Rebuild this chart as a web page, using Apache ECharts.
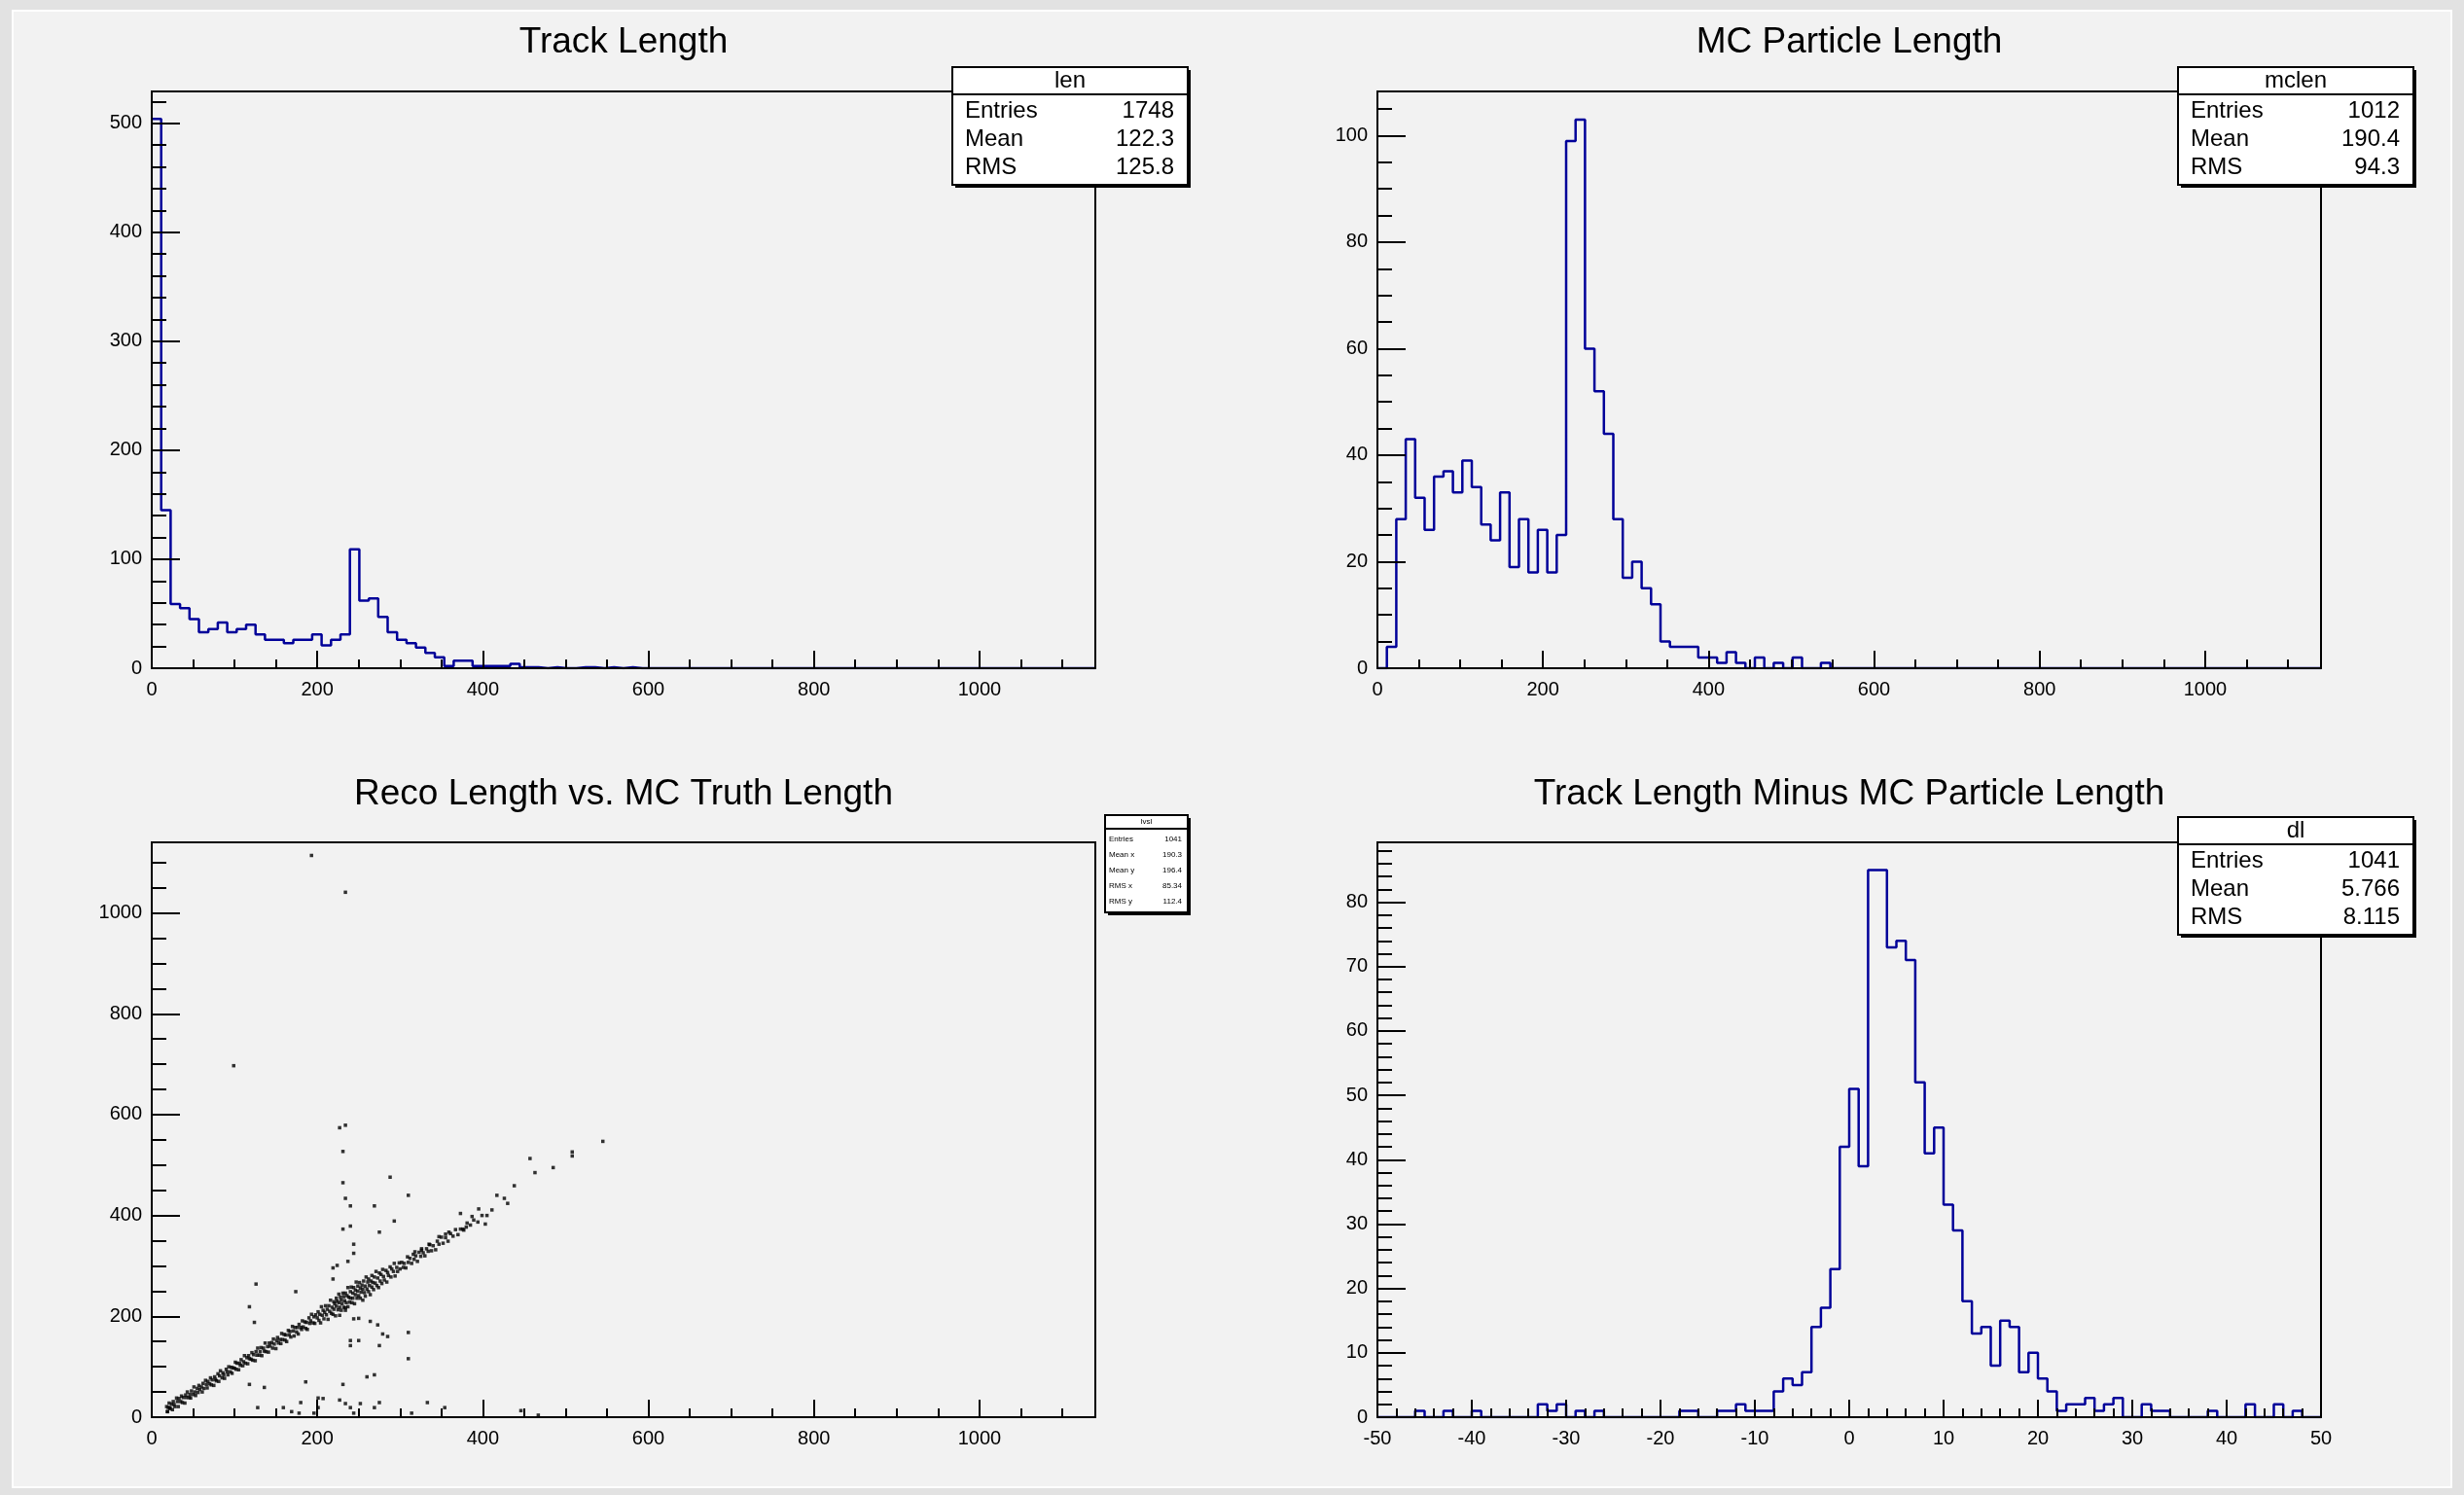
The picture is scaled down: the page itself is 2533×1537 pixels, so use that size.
<!DOCTYPE html>
<html><head><meta charset="utf-8">
<script src="https://cdn.jsdelivr.net/npm/echarts/dist/echarts.min.js"></script>
<style>html,body{margin:0;padding:0;background:#e2e2e2;}#c{width:2533px;height:1537px;}</style>
</head><body><div id="c"></div><script>
// ---------------- DATA ----------------
const lenRange = [0, 1140];
const lenCounts = [504,145,59,55,45,33,36,42,33,36, 40,31,26,26,23,26,26,31,21,26,
  31,109,62,64,47,33,26,23,19,14, 10,2,7,7,2,2,2,2,4,1, 1,0,1,0,0,1,1,0,1,0,
  1,0,0,0,0,0,0,0,0,0, 0,0,0,0,0,0,0,0,0,0, 0,0,0,0,0,0,0,0,0,0, 0,0,0,0,0,0,0,0,0,0,
  0,0,0,0,0,0,0,0,0,0];
const mclenRange = [0, 1140];
const mclenCounts = [0,4,28,43,32,26,36,37,33,39, 34,27,24,33,19,28,18,26,18,25,
  99,103,60,52,44,28,17,20,15,12, 5,4,4,4,2,2,1,3,1,0, 2,0,1,0,2,0,0,1,0,0,
  0,0,0,0,0,0,0,0,0,0, 0,0,0,0,0,0,0,0,0,0, 0,0,0,0,0,0,0,0,0,0, 0,0,0,0,0,0,0,0,0,0,
  0,0,0,0,0,0,0,0,0,0];
const dlRange = [-50, 50];
const dlCounts = [0,0,0,0,1,0,0,1,0,0, 1,0,0,0,0,0,0,2,1,2, 0,1,0,1,0,0,0,0,0,0,
  0,0,1,1,0,0,1,1,2,1, 1,1,4,6,5,7,14,17,23,42, 51,39,85,85,73,74,71,52,41,45,
  33,29,18,13,14,8,15,14,7,10, 6,4,1,2,2,3,1,2,3,0, 0,2,1,1,0,0,0,0,1,0,
  0,0,2,0,0,2,0,1,0,0];
const lvslRange = [0, 1140];
const lvslBand = [
 [18,21],[19,11],[20,19],[21,28],[22,17],[24,26],[25,15],[26,31],[27,25],[28,21],[30,38],[31,31],[32,21],[33,37],[35,31],[36,42],[37,29],[38,39],[40,28],[41,44],[42,39],[43,50],[45,39],[46,45],[47,38],[48,52],[50,45],[51,60],[52,50],[53,43],[55,57],[56,49],[57,63],[58,55],[60,60],
 [61,50],[62,67],[63,57],[65,73],[66,65],[67,58],[68,71],[70,66],[71,78],[72,64],[73,74],[75,63],[76,80],[77,75],[78,72],[80,86],[81,71],[82,82],[83,92],[85,78],[86,88],[87,84],[88,77],[90,95],[91,90],[92,84],[93,100],[95,90],[96,99],[97,87],[98,98],[100,97],[101,109],[102,95],[103,107],[105,94],[106,107],[107,103],[108,114],[110,102],[111,110],[112,122],[113,107],[115,118],[116,106],[117,122],[118,116],[120,115],
 [121,128],[122,113],[123,124],[125,112],[126,130],[127,123],[128,137],[130,123],[131,130],[132,138],[133,122],[135,137],[136,131],[137,147],[138,130],[140,140],[141,129],[142,147],[143,141],[145,148],[146,137],[147,155],[148,145],[150,136],[151,152],[152,158],[153,147],[155,154],[156,146],[157,166],[158,154],[160,164],[161,153],[162,163],[163,150],[165,172],[166,163],[167,170],[168,159],[170,180],[171,171],[172,161],[173,178],[175,169],[176,178],[177,165],[178,184],[180,178],[181,174],[182,191],[183,179],[185,189],[186,176],[187,188],[188,174],[190,197],[191,186],[192,191],[193,204],[195,187],[196,199],[197,186],[198,203],[200,197],
 [201,209],[202,192],[203,204],[204,187],[205,219],[206,202],[207,212],[208,195],[209,208],[210,221],[211,203],[212,214],[213,194],[214,221],[215,210],[216,232],[217,206],[218,218],[219,204],[220,229],[220,214],[221,225],[222,201],[223,236],[223,220],[224,230],[225,213],[226,227],[226,244],[227,218],[228,238],[229,212],[229,232],[230,225],[231,246],[232,218],[232,239],[233,231],[234,212],[234,246],[235,227],[236,241],[237,219],[237,257],[238,238],[239,228],[240,249],[240,236],[241,258],[242,227],[243,246],[243,236],[244,257],[245,225],[246,252],[246,243],[247,268],[248,236],[249,250],[249,260],[250,241],[251,267],[252,236],[252,256],[253,248],[254,262],[255,232],[255,254],[256,270],[257,247],[258,260],[258,240],[259,278],[260,254],[261,268],[262,249],[262,274],[263,261],[264,243],[265,270],[266,258],[266,281],[267,267],[268,253],[269,278],[270,266],[271,289],[272,261],[273,276],[274,257],[275,286],[276,270],[277,283],[278,265],[279,293],[280,279],[281,272],[283,291],[284,268],[285,287],[286,281],[288,298],[289,278],[290,294],[292,289],[293,305],[294,280],[296,297],[297,289],[299,306],[300,294],
 [302,307],[304,297],[305,305],[307,296],[309,318],[310,307],[312,315],[314,305],[316,323],[317,313],[319,320],[321,309],[323,327],[325,319],[326,334],[328,326],[330,320],[332,334],[334,329],[336,342],[338,330],[340,340],[343,332],[345,349],[347,343],[350,357],[352,345],[355,356],[358,349],[361,364],[364,359],[367,372],[370,362],[373,373],[377,371],[381,385],[385,381],[389,391],[394,387],[399,400],[405,400],[411,411]
];
const lvslOutliers = [
 [193,1114],[234,1041],[99,697],[227,574],[234,579],[231,527],[231,465],[234,434],[240,419],[288,476],[310,440],[269,419],[293,389],[275,367],[231,373],[240,379],[244,343],[244,325],[224,301],[219,296],[237,309],[219,274],[126,264],[174,249],[118,219],[124,188],[227,202],[234,217],[244,195],[250,196],[264,190],[273,183],[279,165],[285,160],[310,168],[240,152],[250,152],[240,142],[275,142],[310,116],[118,65],[136,59],[186,70],[231,65],[260,80],[269,84],
 [128,19],[159,19],[180,29],[201,38],[201,19],[207,37],[227,34],[234,27],[240,19],[252,27],[269,19],[275,29],[314,8],[333,29],[354,19],[446,13],[467,4],[169,11],[178,8],[196,8],[244,8],[19,11],[22,19],
 [545,547],[508,526],[508,518],[457,513],[463,485],[485,495],[438,459],[417,440],[426,434],[430,424],[395,413],[373,404],[387,398],[403,383],[380,377],[376,373],[359,367],[355,363],[347,358],[335,343],[326,331],[318,328]
];
const titles = ['Track Length','MC Particle Length','Reco Length vs. MC Truth Length','Track Length Minus MC Particle Length'];
const statLen = {name:'len', rows:[['Entries','1748'],['Mean','122.3'],['RMS','125.8']]};
const statMclen = {name:'mclen', rows:[['Entries','1012'],['Mean','190.4'],['RMS','94.3']]};
const statLvsl = {name:'lvsl', rows:[['Entries','1041'],['Mean x','190.3'],['Mean y','196.4'],['RMS x','85.34'],['RMS y','112.4']]};
const statDl = {name:'dl', rows:[['Entries','1041'],['Mean','5.766'],['RMS','8.115']]};

// ---------------- BUILD ----------------
function histPoints(counts, range){
  const w = (range[1]-range[0])/counts.length;
  const pts = counts.map((c,i)=>[range[0]+i*w, c]);
  pts.push([range[1], counts[counts.length-1]]);
  return pts;
}
const FONT = '"Liberation Sans", Arial, Helvetica, sans-serif';
const grids = [
  {left:156, top:94, width:970, height:593},
  {left:1416, top:94, width:970, height:593},
  {left:156, top:866, width:970, height:591},
  {left:1416, top:866, width:970, height:591}
];
const axisCfg = [
  {x:[0,1140,200,50], y:[0,529.2,100,20]},
  {x:[0,1140,200,50], y:[0,108.3,20,5]},
  {x:[0,1140,200,50], y:[0,1140,200,50]},
  {x:[-50,50,10,2], y:[0,89.3,10,2]}
];
const plainNum = v => String(Math.round(v*1000)/1000);
const xAxes=[], yAxes=[];
grids.forEach((g,gi)=>{
  const a = axisCfg[gi];
  const common = {gridIndex:gi, type:'value', splitLine:{show:false}, z:5};
  xAxes.push(Object.assign({}, common, {position:'bottom', min:a.x[0], max:a.x[1], interval:a.x[2],
    axisLine:{show:true, onZero:false, lineStyle:{color:'#000', width:2}},
    axisTick:{show:true, inside:true, length:18, lineStyle:{color:'#000', width:2}},
    axisLabel:{show:true, color:'#000', fontSize:20, fontFamily:FONT, margin:12, formatter:plainNum, showMaxLabel: a.x[1]%a.x[2]===0, showMinLabel:true}}));
  xAxes.push(Object.assign({}, common, {position:'bottom', min:a.x[0], max:a.x[1], interval:a.x[3],
    axisLine:{show:false, onZero:false}, axisLabel:{show:false},
    axisTick:{show:true, inside:true, length:9, lineStyle:{color:'#000', width:2}}}));
  yAxes.push(Object.assign({}, common, {position:'left', min:a.y[0], max:a.y[1], interval:a.y[2],
    axisLine:{show:true, onZero:false, lineStyle:{color:'#000', width:2}},
    axisTick:{show:true, inside:true, length:29, lineStyle:{color:'#000', width:2}},
    axisLabel:{show:true, color:'#000', fontSize:20, fontFamily:FONT, margin:10, formatter:plainNum, showMaxLabel:false, showMinLabel:true}}));
  yAxes.push(Object.assign({}, common, {position:'left', min:a.y[0], max:a.y[1], interval:a.y[3],
    axisLine:{show:false, onZero:false}, axisLabel:{show:false},
    axisTick:{show:true, inside:true, length:15, lineStyle:{color:'#000', width:2}}}));
});
const histStyle = {color:'#000099', width:2.5};
const series = [
  {type:'line', step:'end', xAxisIndex:0, yAxisIndex:0, data:histPoints(lenCounts, lenRange), symbol:'none', lineStyle:histStyle, z:3},
  {type:'line', step:'end', xAxisIndex:2, yAxisIndex:2, data:histPoints(mclenCounts, mclenRange), symbol:'none', lineStyle:histStyle, z:3},
  {type:'scatter', xAxisIndex:4, yAxisIndex:4, data:lvslBand.concat(lvslOutliers), symbol:'rect', symbolSize:3.5, itemStyle:{color:'#000'}, z:3},
  {type:'line', step:'end', xAxisIndex:6, yAxisIndex:6, data:histPoints(dlCounts, dlRange), symbol:'none', lineStyle:histStyle, z:3}
];
// graphics: titles + stat boxes
const graphics = [
  {type:'rect', shape:{x:13, y:11, width:2507, height:1518}, style:{fill:'#f2f2f2', stroke:'#ffffff', lineWidth:2}, z:-10, silent:true}
];
const titlePos = [[641,44],[1901,44],[641,817],[1901,817]];
titles.forEach((t,i)=>{
  graphics.push({type:'text', x:titlePos[i][0], y:titlePos[i][1], style:{text:t, font:'37px '+FONT, fill:'#000', align:'center', verticalAlign:'middle', textAlign:'center', textVerticalAlign:'middle'}, z:20});
});
function statBox(st, x, y, w, headH, rowH, fs, padL, padR){
  const h = headH + rowH*st.rows.length + 6;
  graphics.push({type:'rect', shape:{x:x+3, y:y+3, width:w, height:h}, style:{fill:'#000'}, z:18});
  graphics.push({type:'rect', shape:{x:x, y:y, width:w, height:h}, style:{fill:'#fff', stroke:'#000', lineWidth:2}, z:19});
  graphics.push({type:'line', shape:{x1:x, y1:y+headH, x2:x+w, y2:y+headH}, style:{stroke:'#000', lineWidth:2}, z:20});
  graphics.push({type:'text', x:x+w/2, y:y+headH/2, style:{text:st.name, font:fs+'px '+FONT, fill:'#000', align:'center', verticalAlign:'middle', textAlign:'center', textVerticalAlign:'middle'}, z:21});
  st.rows.forEach((r,i)=>{
    const cy = y+headH+3+rowH*(i+0.5);
    graphics.push({type:'text', x:x+padL, y:cy, style:{text:r[0], font:fs+'px '+FONT, fill:'#000', align:'left', verticalAlign:'middle', textAlign:'left', textVerticalAlign:'middle'}, z:21});
    graphics.push({type:'text', x:x+w-padR, y:cy, style:{text:r[1], font:fs+'px '+FONT, fill:'#000', align:'right', verticalAlign:'middle', textAlign:'right', textVerticalAlign:'middle'}, z:21});
  });
}
statBox(statLen, 979, 69, 242, 28, 29, 24, 13, 14);
statBox(statMclen, 2239, 69, 242, 28, 29, 24, 13, 14);
statBox(statDl, 2239, 840, 242, 28, 29, 24, 13, 14);
statBox(statLvsl, 1136, 838, 85, 14, 16, 8, 4, 6);

const chart = echarts.init(document.getElementById('c'), null, {renderer:'canvas'});
chart.setOption({
  animation:false,
  backgroundColor:'#e2e2e2',
  grid: grids.map(g=>Object.assign({show:true, borderColor:'#000', borderWidth:2, backgroundColor:'transparent'}, g)),
  xAxis:xAxes, yAxis:yAxes, series:series, graphic:graphics
});
</script></body></html>
